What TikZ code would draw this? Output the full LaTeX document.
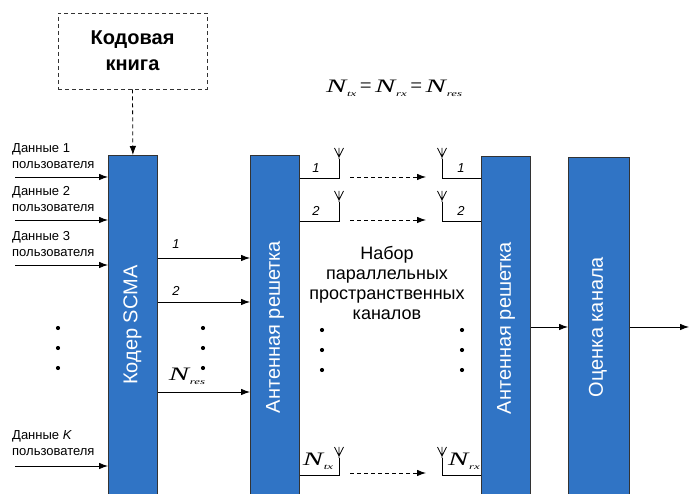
\documentclass[tikz,border=0pt]{standalone}
\usepackage{fontspec}
\usepackage{graphicx}
\setmainfont{Liberation Sans}
\newfontfamily\mathserif{Liberation Serif}
\usetikzlibrary{arrows.meta}

\definecolor{blockblue}{HTML}{3074C5}

\tikzset{
  block/.style={draw=black!80, line width=0.8pt, fill=blockblue, minimum width=49pt, minimum height=339pt, anchor=north west, inner sep=0pt},
  vlabel/.style={rotate=90, text=white, font=\fontsize{20}{22}\selectfont},
  arr/.style={line width=0.8pt, -{Latex[length=9pt,width=6.5pt]}},
  darr/.style={line width=0.8pt, dash pattern=on 4pt off 3pt, -{Latex[length=9pt,width=6.5pt]}},
  wire/.style={line width=0.8pt},
  userlbl/.style={anchor=west, align=left, inner sep=0pt, font=\fontsize{13}{16}\selectfont},
  numlbl/.style={inner sep=0pt, font=\itshape\fontsize{13}{15}\selectfont},
  dotmark/.style={fill=black, draw=none, circle, inner sep=0pt, minimum size=4.2pt},
  antenna/.pic={
    \draw[line width=0.8pt] (0,0) -- (0,-11) (-4.5,-11) -- (0,-2) -- (4.5,-11);
  }
}

% stretched italic N with a small subscript
\newcommand{\Nsym}[1]{\scalebox{1.6}[1]{\mathserif\itshape\fontsize{19}{21}\selectfont N\kern0.5pt\raisebox{-4pt}{\fontsize{8}{9}\selectfont #1}}}
\newcommand{\eqsign}{{\mathserif\fontsize{21}{24}\selectfont\,=\,}}

\begin{document}
\begin{tikzpicture}[x=1pt,y=-1pt]
\useasboundingbox (0,0) rectangle (689,494);

% main blocks
\node[block] (coder) at (108,155) {};
\node[block] (arrA) at (250,155) {};
\node[block] (arrB) at (481,156) {};
\node[block, minimum width=61pt] (est) at (568,157) {};

\node[vlabel] (coderlbl) at (132.5,325) {Кодер SCMA};
\node[vlabel] (arrAlbl) at (275,327) {Антенная решетка};
\node[vlabel] (arrBlbl) at (506,328) {Антенная решетка};
\node[vlabel] (estlbl) at (598,327) {Оценка канала};

% codebook
\node[draw=black!80, line width=0.8pt, dash pattern=on 4pt off 3pt, minimum width=149pt, minimum height=76pt, align=center, font=\bfseries\fontsize{20}{26}\selectfont] (book) at (132.5,51) {Кодовая\\книга};
\draw[darr] (book.south) -- (coder.north);

% user inputs
\node[userlbl] (u1) at (12,156) {Данные 1\\пользователя};
\node[userlbl] (u2) at (12,199) {Данные 2\\пользователя};
\node[userlbl] (u3) at (12,244) {Данные 3\\пользователя};
\node[userlbl] (uK) at (12,443) {Данные \textit{K}\\пользователя};
\coordinate (i1) at (15,177);
\coordinate (i2) at (15,220);
\coordinate (i3) at (15,265);
\coordinate (iK) at (15,466);
\foreach \c in {i1,i2,i3,iK} \draw[arr] (\c) -- (\c -| coder.west);
\foreach \y [count=\k] in {328,348,368} \node[dotmark] (ud\k) at (58,\y) {};

% coder to antenna array
\coordinate (o1) at (157,258);
\coordinate (o2) at (157,302);
\coordinate (oN) at (157,392);
\foreach \c in {o1,o2,oN} \draw[arr] (\c -| coder.east) -- (\c -| arrA.west);
\node[numlbl] (ol1) at (176,244) {1};
\node[numlbl] (ol2) at (176,291) {2};
\node[inner sep=0pt] (olN) at (187,376) {\Nsym{res}};
\foreach \y [count=\k] in {328,348,368} \node[dotmark] (od\k) at (203,\y) {};

% transmit antennas
\coordinate (t1) at (339,178);
\coordinate (t2) at (339,221);
\coordinate (tN) at (339,475);
\draw[wire] (t1 -| arrA.east) -- (t1) -- ++(0,-19) pic {antenna};
\draw[wire] (t2 -| arrA.east) -- (t2) -- ++(0,-19) pic {antenna};
\draw[wire] (tN -| arrA.east) -- (tN) -- ++(0,-17) pic {antenna};
\node[numlbl] (tl1) at (316,168) {1};
\node[numlbl] (tl2) at (316,211) {2};
\node[inner sep=0pt] (tlN) at (318,461) {\Nsym{tx}};

% receive antennas
\coordinate (r1) at (442,178);
\coordinate (r2) at (442,221);
\coordinate (rN) at (442,475);
\draw[wire] (r1 -| arrB.west) -- (r1) -- ++(0,-19) pic {antenna};
\draw[wire] (r2 -| arrB.west) -- (r2) -- ++(0,-19) pic {antenna};
\draw[wire] (rN -| arrB.west) -- (rN) -- ++(0,-17) pic {antenna};
\node[numlbl] (rl1) at (461,168) {1};
\node[numlbl] (rl2) at (461,211) {2};
\node[inner sep=0pt] (rlN) at (464,461) {\Nsym{rx}};

% spatial channels
\coordinate (c1a) at (350,177);
\coordinate (c1b) at (426,177);
\coordinate (c2a) at (350,220);
\coordinate (c2b) at (426,220);
\coordinate (cNa) at (350,473);
\coordinate (cNb) at (426,473);
\draw[darr] (c1a) -- (c1b);
\draw[darr] (c2a) -- (c2b);
\draw[darr] (cNa) -- (cNb);
\foreach \y [count=\k] in {330,350,370} {
  \node[dotmark] (cd\k) at (322,\y) {};
  \node[dotmark] (ce\k) at (462,\y) {};
}
\node[align=center, font=\fontsize{18}{20}\selectfont] (chan) at (387,283) {Набор\\параллельных\\пространственных\\каналов};

% equality
\node[inner sep=0pt] (eq) at (394,88) {\Nsym{tx}\eqsign\Nsym{rx}\eqsign\Nsym{res}};

% array to estimator to output
\draw[arr] (arrB.east |- 0,327) -- (est.west |- 0,327);
\coordinate (out) at (689,327);
\draw[arr] (est.east |- out) -- (out);
\end{tikzpicture}
\end{document}
